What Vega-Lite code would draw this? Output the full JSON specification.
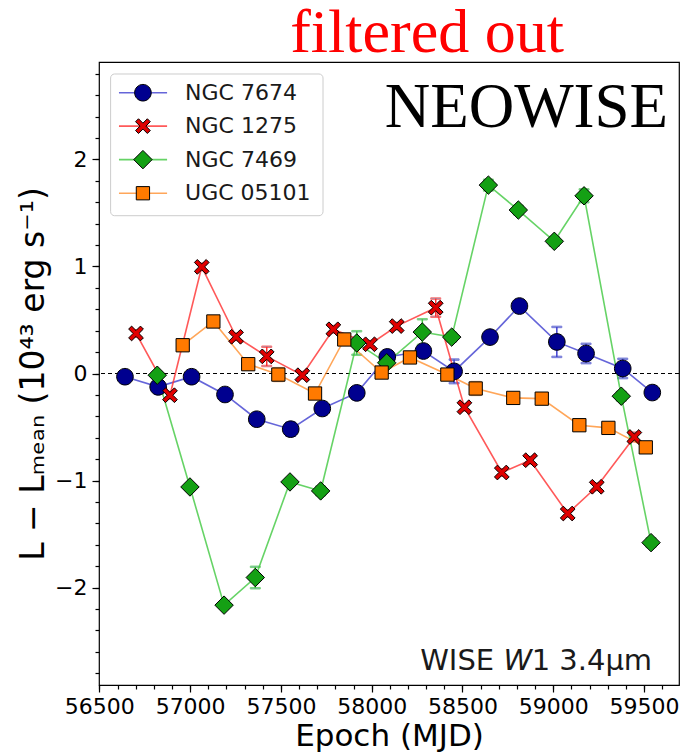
{
  "$schema": "https://vega.github.io/schema/vega-lite/v6.json",
  "width": 580,
  "height": 623,
  "autosize": {"type": "none"},
  "padding": {"left": 99, "top": 62, "right": 1, "bottom": 67},
  "background": "white",
  "config": {
    "view": {"stroke": "black", "strokeWidth": 1.2},
    "axis": {
      "grid": false,
      "domain": false,
      "tickColor": "black",
      "tickWidth": 1.2,
      "labelColor": "black",
      "titleColor": "black",
      "labelFont": "DejaVu Sans",
      "titleFont": "DejaVu Sans",
      "labelFontSize": 22,
      "titleFontSize": 31,
      "titleFontWeight": "normal",
      "labelOverlap": false,
      "labelFlush": false
    }
  },
  "datasets": {
    "lc": [
      {"obj": "NGC 7674", "mjd": 56641, "v": -0.03, "err": 0.03},
      {"obj": "NGC 7674", "mjd": 56824, "v": -0.125, "err": 0.04},
      {"obj": "NGC 7674", "mjd": 57008, "v": -0.03, "err": 0.05},
      {"obj": "NGC 7674", "mjd": 57192, "v": -0.196, "err": 0.03},
      {"obj": "NGC 7674", "mjd": 57367, "v": -0.427, "err": 0.04},
      {"obj": "NGC 7674", "mjd": 57554, "v": -0.52, "err": 0.06},
      {"obj": "NGC 7674", "mjd": 57728, "v": -0.327, "err": 0.04},
      {"obj": "NGC 7674", "mjd": 57918, "v": -0.181, "err": 0.04},
      {"obj": "NGC 7674", "mjd": 58086, "v": 0.155, "err": 0.04},
      {"obj": "NGC 7674", "mjd": 58285, "v": 0.21, "err": 0.04},
      {"obj": "NGC 7674", "mjd": 58454, "v": 0.02, "err": 0.11},
      {"obj": "NGC 7674", "mjd": 58652, "v": 0.34, "err": 0.05},
      {"obj": "NGC 7674", "mjd": 58814, "v": 0.63, "err": 0.04},
      {"obj": "NGC 7674", "mjd": 59020, "v": 0.295, "err": 0.14},
      {"obj": "NGC 7674", "mjd": 59181, "v": 0.187, "err": 0.09},
      {"obj": "NGC 7674", "mjd": 59383, "v": 0.047, "err": 0.09},
      {"obj": "NGC 7674", "mjd": 59546, "v": -0.178, "err": 0.04},
      {"obj": "NGC 1275", "mjd": 56702, "v": 0.374, "err": 0.03},
      {"obj": "NGC 1275", "mjd": 56889, "v": -0.203, "err": 0.03},
      {"obj": "NGC 1275", "mjd": 57064, "v": 0.996, "err": 0.03},
      {"obj": "NGC 1275", "mjd": 57253, "v": 0.343, "err": 0.03},
      {"obj": "NGC 1275", "mjd": 57422, "v": 0.16, "err": 0.09},
      {"obj": "NGC 1275", "mjd": 57618, "v": -0.016, "err": 0.03},
      {"obj": "NGC 1275", "mjd": 57789, "v": 0.413, "err": 0.03},
      {"obj": "NGC 1275", "mjd": 57991, "v": 0.273, "err": 0.03},
      {"obj": "NGC 1275", "mjd": 58138, "v": 0.443, "err": 0.03},
      {"obj": "NGC 1275", "mjd": 58353, "v": 0.615, "err": 0.085},
      {"obj": "NGC 1275", "mjd": 58511, "v": -0.315, "err": 0.03},
      {"obj": "NGC 1275", "mjd": 58717, "v": -0.925, "err": 0.03},
      {"obj": "NGC 1275", "mjd": 58873, "v": -0.81, "err": 0.03},
      {"obj": "NGC 1275", "mjd": 59080, "v": -1.308, "err": 0.03},
      {"obj": "NGC 1275", "mjd": 59240, "v": -1.058, "err": 0.03},
      {"obj": "NGC 1275", "mjd": 59447, "v": -0.593, "err": 0.04},
      {"obj": "NGC 7469", "mjd": 56819, "v": -0.016, "err": 0.03},
      {"obj": "NGC 7469", "mjd": 56999, "v": -1.06, "err": 0.03},
      {"obj": "NGC 7469", "mjd": 57187, "v": -2.164, "err": 0.03},
      {"obj": "NGC 7469", "mjd": 57359, "v": -1.906, "err": 0.1},
      {"obj": "NGC 7469", "mjd": 57550, "v": -1.013, "err": 0.03},
      {"obj": "NGC 7469", "mjd": 57719, "v": -1.097, "err": 0.04},
      {"obj": "NGC 7469", "mjd": 57918, "v": 0.285, "err": 0.11},
      {"obj": "NGC 7469", "mjd": 58083, "v": 0.1, "err": 0.04},
      {"obj": "NGC 7469", "mjd": 58279, "v": 0.387, "err": 0.12},
      {"obj": "NGC 7469", "mjd": 58441, "v": 0.34, "err": 0.04},
      {"obj": "NGC 7469", "mjd": 58643, "v": 1.76, "err": 0.05},
      {"obj": "NGC 7469", "mjd": 58808, "v": 1.527, "err": 0.04},
      {"obj": "NGC 7469", "mjd": 59006, "v": 1.235, "err": 0.04},
      {"obj": "NGC 7469", "mjd": 59170, "v": 1.66, "err": 0.06},
      {"obj": "NGC 7469", "mjd": 59375, "v": -0.212, "err": 0.04},
      {"obj": "NGC 7469", "mjd": 59539, "v": -1.58, "err": 0.04},
      {"obj": "UGC 05101", "mjd": 56959, "v": 0.264, "err": 0.03},
      {"obj": "UGC 05101", "mjd": 57128, "v": 0.486, "err": 0.03},
      {"obj": "UGC 05101", "mjd": 57320, "v": 0.087, "err": 0.03},
      {"obj": "UGC 05101", "mjd": 57486, "v": -0.01, "err": 0.06},
      {"obj": "UGC 05101", "mjd": 57688, "v": -0.187, "err": 0.03},
      {"obj": "UGC 05101", "mjd": 57849, "v": 0.318, "err": 0.03},
      {"obj": "UGC 05101", "mjd": 58055, "v": 0.009, "err": 0.03},
      {"obj": "UGC 05101", "mjd": 58211, "v": 0.15, "err": 0.03},
      {"obj": "UGC 05101", "mjd": 58417, "v": -0.01, "err": 0.03},
      {"obj": "UGC 05101", "mjd": 58573, "v": -0.14, "err": 0.06},
      {"obj": "UGC 05101", "mjd": 58780, "v": -0.228, "err": 0.03},
      {"obj": "UGC 05101", "mjd": 58937, "v": -0.235, "err": 0.04},
      {"obj": "UGC 05101", "mjd": 59144, "v": -0.483, "err": 0.03},
      {"obj": "UGC 05101", "mjd": 59304, "v": -0.508, "err": 0.03},
      {"obj": "UGC 05101", "mjd": 59510, "v": -0.69, "err": 0.03}
    ]
  },
  "data": {"name": "lc"},
  "resolve": {"axis": {"x": "independent", "y": "independent"}},
  "layer": [
    {
      "data": {"values": [{"level": 0}]},
      "mark": {"type": "rule", "color": "black", "strokeWidth": 1, "strokeDash": [4, 3]},
      "encoding": {
        "y": {"field": "level", "type": "quantitative", "scale": {"domain": [-2.91, 2.91], "nice": false, "zero": false}, "axis": null}
      }
    },
    {
      "mark": {"type": "errorbar", "ticks": {"size": 10, "thickness": 1.5}, "thickness": 1.5},
      "encoding": {
        "x": {
          "field": "mjd", "type": "quantitative",
          "scale": {"domain": [56498, 59693], "nice": false, "zero": false},
          "axis": {
            "orient": "bottom",
            "values": [56500, 56600, 56700, 56800, 56900, 57000, 57100, 57200, 57300, 57400, 57500, 57600, 57700, 57800, 57900, 58000, 58100, 58200, 58300, 58400, 58500, 58600, 58700, 58800, 58900, 59000, 59100, 59200, 59300, 59400, 59500, 59600],
            "labels": false, "title": null, "tickSize": 4
          }
        },
        "y": {
          "field": "v", "type": "quantitative",
          "scale": {"domain": [-2.91, 2.91], "nice": false, "zero": false},
          "axis": {
            "orient": "left",
            "values": [-2.8, -2.6, -2.4, -2.2, -2, -1.8, -1.6, -1.4, -1.2, -1, -0.8, -0.6, -0.4, -0.2, 0, 0.2, 0.4, 0.6, 0.8, 1, 1.2, 1.4, 1.6, 1.8, 2, 2.2, 2.4, 2.6, 2.8],
            "labels": false, "title": null, "tickSize": 4
          }
        },
        "yError": {"field": "err"},
        "stroke": {
          "field": "obj", "type": "nominal",
          "scale": {"domain": ["NGC 7674", "NGC 1275", "NGC 7469", "UGC 05101"], "range": ["#3f3fd0", "#ff3030", "#40c840", "#ff9030"]},
          "legend": null
        }
      }
    },
    {
      "mark": {"type": "line", "strokeWidth": 1.6, "opacity": 0.8},
      "encoding": {
        "x": {
          "field": "mjd", "type": "quantitative",
          "scale": {"domain": [56498, 59693], "nice": false, "zero": false},
          "axis": {"orient": "bottom", "values": [56500, 57000, 57500, 58000, 58500, 59000, 59500], "format": "d", "tickSize": 7, "labelPadding": 4, "title": "Epoch (MJD)", "titlePadding": 4}
        },
        "y": {
          "field": "v", "type": "quantitative",
          "scale": {"domain": [-2.91, 2.91], "nice": false, "zero": false},
          "axis": {"orient": "left", "values": [-2, -1, 0, 1, 2], "format": "d", "labelExpr": "replace(datum.label, '-', '\u2212')", "tickSize": 7, "labelPadding": 5, "title": "L \u2212 L\u2098\u2091\u2090\u2099 (10\u2074\u00b3 erg s\u207b\u00b9)", "titleFontSize": 33, "titlePadding": 4}
        },
        "stroke": {
          "field": "obj", "type": "nominal",
          "scale": {"domain": ["NGC 7674", "NGC 1275", "NGC 7469", "UGC 05101"], "range": ["#3f3fd0", "#ff3030", "#40c840", "#ff9030"]},
          "legend": null
        },
        "order": {"field": "mjd", "type": "quantitative"}
      }
    },
    {
      "mark": {"type": "point", "filled": true, "stroke": "black", "strokeWidth": 1, "opacity": 1, "size": 340},
      "encoding": {
        "x": {"field": "mjd", "type": "quantitative", "scale": {"domain": [56498, 59693], "nice": false, "zero": false}, "axis": null},
        "y": {"field": "v", "type": "quantitative", "scale": {"domain": [-2.91, 2.91], "nice": false, "zero": false}, "axis": null},
        "color": {
          "field": "obj", "type": "nominal",
          "scale": {"domain": ["NGC 7674", "NGC 1275", "NGC 7469", "UGC 05101"], "range": ["#00008f", "#e00000", "#14a014", "#ff7a00"]},
          "legend": null
        },
        "shape": {
          "field": "obj", "type": "nominal",
          "scale": {"domain": ["NGC 7674", "NGC 1275", "NGC 7469", "UGC 05101"], "range": ["M-0.9,0A0.9,0.9,0,1,1,0.9,0A0.9,0.9,0,1,1,-0.9,0Z", "M-0.8,-0.48L-0.48,-0.8L0,-0.32L0.48,-0.8L0.8,-0.48L0.32,0L0.8,0.48L0.48,0.8L0,0.32L-0.48,0.8L-0.8,0.48L-0.32,0Z", "M-1,0L0,-1L1,0L0,1Z", "M-0.72,-0.72L0.72,-0.72L0.72,0.72L-0.72,0.72Z"]},
          "legend": null
        }
      }
    },
    {
      "data": {"values": [{"box": "key"}]},
      "mark": {"type": "rect", "fill": "white", "fillOpacity": 0.85, "stroke": "#cccccc", "strokeWidth": 1, "cornerRadius": 4},
      "encoding": {
        "x": {"datum": 56562, "type": "quantitative", "axis": null},
        "x2": {"datum": 57732},
        "y": {"datum": 2.798, "type": "quantitative", "axis": null},
        "y2": {"datum": 1.474}
      }
    },
    {
      "data": {"values": [{"obj": "NGC 7674"}]},
      "encoding": {"y": {"datum": 2.623, "type": "quantitative", "axis": null}},
      "layer": [
        {"mark": {"type": "rule", "strokeWidth": 1.6, "opacity": 0.8}, "encoding": {"x": {"datum": 56608, "type": "quantitative", "axis": null}, "x2": {"datum": 56873}, "stroke": {"field": "obj", "type": "nominal", "legend": null}}},
        {"mark": {"type": "point", "filled": true, "stroke": "black", "strokeWidth": 1, "opacity": 1, "size": 340}, "encoding": {"x": {"datum": 56740, "type": "quantitative", "axis": null}, "color": {"field": "obj", "type": "nominal", "legend": null}, "shape": {"field": "obj", "type": "nominal", "legend": null}}},
        {"mark": {"type": "text", "align": "left", "baseline": "middle", "font": "DejaVu Sans", "fontSize": 22, "color": "#1a1a1a"}, "encoding": {"x": {"datum": 56972, "type": "quantitative", "axis": null}, "text": {"field": "obj"}}}
      ]
    },
    {
      "data": {"values": [{"obj": "NGC 1275"}]},
      "encoding": {"y": {"datum": 2.311, "type": "quantitative", "axis": null}},
      "layer": [
        {"mark": {"type": "rule", "strokeWidth": 1.6, "opacity": 0.8}, "encoding": {"x": {"datum": 56608, "type": "quantitative", "axis": null}, "x2": {"datum": 56873}, "stroke": {"field": "obj", "type": "nominal", "legend": null}}},
        {"mark": {"type": "point", "filled": true, "stroke": "black", "strokeWidth": 1, "opacity": 1, "size": 340}, "encoding": {"x": {"datum": 56740, "type": "quantitative", "axis": null}, "color": {"field": "obj", "type": "nominal", "legend": null}, "shape": {"field": "obj", "type": "nominal", "legend": null}}},
        {"mark": {"type": "text", "align": "left", "baseline": "middle", "font": "DejaVu Sans", "fontSize": 22, "color": "#1a1a1a"}, "encoding": {"x": {"datum": 56972, "type": "quantitative", "axis": null}, "text": {"field": "obj"}}}
      ]
    },
    {
      "data": {"values": [{"obj": "NGC 7469"}]},
      "encoding": {"y": {"datum": 1.998, "type": "quantitative", "axis": null}},
      "layer": [
        {"mark": {"type": "rule", "strokeWidth": 1.6, "opacity": 0.8}, "encoding": {"x": {"datum": 56608, "type": "quantitative", "axis": null}, "x2": {"datum": 56873}, "stroke": {"field": "obj", "type": "nominal", "legend": null}}},
        {"mark": {"type": "point", "filled": true, "stroke": "black", "strokeWidth": 1, "opacity": 1, "size": 340}, "encoding": {"x": {"datum": 56740, "type": "quantitative", "axis": null}, "color": {"field": "obj", "type": "nominal", "legend": null}, "shape": {"field": "obj", "type": "nominal", "legend": null}}},
        {"mark": {"type": "text", "align": "left", "baseline": "middle", "font": "DejaVu Sans", "fontSize": 22, "color": "#1a1a1a"}, "encoding": {"x": {"datum": 56972, "type": "quantitative", "axis": null}, "text": {"field": "obj"}}}
      ]
    },
    {
      "data": {"values": [{"obj": "UGC 05101"}]},
      "encoding": {"y": {"datum": 1.684, "type": "quantitative", "axis": null}},
      "layer": [
        {"mark": {"type": "rule", "strokeWidth": 1.6, "opacity": 0.8}, "encoding": {"x": {"datum": 56608, "type": "quantitative", "axis": null}, "x2": {"datum": 56873}, "stroke": {"field": "obj", "type": "nominal", "legend": null}}},
        {"mark": {"type": "point", "filled": true, "stroke": "black", "strokeWidth": 1, "opacity": 1, "size": 340}, "encoding": {"x": {"datum": 56740, "type": "quantitative", "axis": null}, "color": {"field": "obj", "type": "nominal", "legend": null}, "shape": {"field": "obj", "type": "nominal", "legend": null}}},
        {"mark": {"type": "text", "align": "left", "baseline": "middle", "font": "DejaVu Sans", "fontSize": 22, "color": "#1a1a1a"}, "encoding": {"x": {"datum": 56972, "type": "quantitative", "axis": null}, "text": {"field": "obj"}}}
      ]
    },
    {
      "data": {"values": [{"x": 58305, "y": 3.0, "t": "filtered out"}]},
      "mark": {"type": "text", "align": "center", "baseline": "alphabetic", "font": "Liberation Serif", "fontSize": 62, "color": "#ff0000"},
      "encoding": {
        "x": {"field": "x", "type": "quantitative", "axis": null},
        "y": {"field": "y", "type": "quantitative", "axis": null},
        "text": {"field": "t"}
      }
    },
    {
      "data": {"values": [{"x": 59633, "y": 2.3, "t": "NEOWISE"}]},
      "mark": {"type": "text", "align": "right", "baseline": "alphabetic", "font": "Liberation Serif", "fontSize": 63, "color": "black"},
      "encoding": {
        "x": {"field": "x", "type": "quantitative", "axis": null},
        "y": {"field": "y", "type": "quantitative", "axis": null},
        "text": {"field": "t"}
      }
    },
    {
      "data": {"values": [{"x": 59545, "y": -2.77}]},
      "layer": [
        {
          "mark": {"type": "text", "text": "1 3.4\u03bcm", "align": "right", "baseline": "alphabetic", "font": "DejaVu Sans", "fontSize": 29, "color": "#1a1a1a"},
          "encoding": {"x": {"field": "x", "type": "quantitative", "axis": null}, "y": {"field": "y", "type": "quantitative", "axis": null}}
        },
        {
          "mark": {"type": "text", "text": "W", "align": "right", "baseline": "alphabetic", "font": "DejaVu Sans", "fontStyle": "italic", "fontSize": 29, "dx": -120, "color": "#1a1a1a"},
          "encoding": {"x": {"field": "x", "type": "quantitative", "axis": null}, "y": {"field": "y", "type": "quantitative", "axis": null}}
        },
        {
          "mark": {"type": "text", "text": "WISE", "align": "right", "baseline": "alphabetic", "font": "DejaVu Sans", "fontSize": 29, "dx": -158, "color": "#1a1a1a"},
          "encoding": {"x": {"field": "x", "type": "quantitative", "axis": null}, "y": {"field": "y", "type": "quantitative", "axis": null}}
        }
      ]
    }
  ]
}
